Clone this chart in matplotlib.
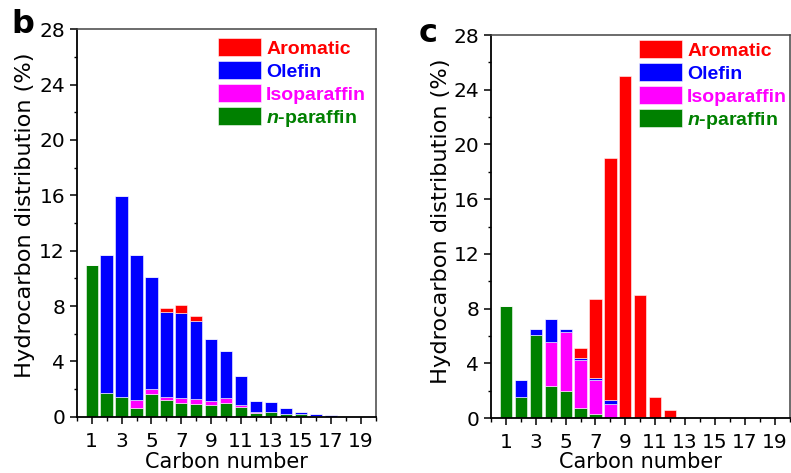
import matplotlib
matplotlib.use("Agg")
import matplotlib.pyplot as plt
from matplotlib.patches import Patch
import numpy as np

plt.rcParams['font.family'] = ['DejaVu Sans']
plt.rcParams['mathtext.fontset'] = 'custom'
plt.rcParams['mathtext.it'] = 'Liberation Sans:italic:bold'
plt.rcParams['mathtext.rm'] = 'Liberation Sans:bold'

carbon = np.arange(1, 20)

# Panel b
b_nparaffin = [11.0, 1.71, 1.42, 0.63, 1.64, 1.20, 0.99, 0.92, 0.82, 0.99, 0.67, 0.24, 0.36, 0.22, 0.17, 0.05, 0.0, 0.0, 0.0]
b_isoparaffin = [0.0, 0.0, 0.0, 0.57, 0.38, 0.25, 0.38, 0.38, 0.31, 0.38, 0.17, 0.12, 0.0, 0.0, 0.0, 0.0, 0.0, 0.0, 0.0]
b_olefin = [0.0, 9.95, 14.53, 10.46, 8.05, 6.14, 6.10, 5.59, 4.46, 3.40, 2.08, 0.77, 0.72, 0.38, 0.19, 0.15, 0.10, 0.0, 0.0]
b_aromatic = [0.0, 0.0, 0.0, 0.0, 0.0, 0.27, 0.63, 0.39, 0.0, 0.0, 0.0, 0.0, 0.0, 0.0, 0.0, 0.0, 0.0, 0.0, 0.0]

# Panel c
c_nparaffin = [8.17, 1.51, 6.05, 2.37, 1.98, 0.76, 0.29, 0.0, 0.0, 0.0, 0.0, 0.0, 0.0, 0.0, 0.0, 0.0, 0.0, 0.0, 0.0]
c_isoparaffin = [0.0, 0.0, 0.0, 3.22, 4.34, 3.51, 2.51, 1.05, 0.0, 0.0, 0.0, 0.0, 0.0, 0.0, 0.0, 0.0, 0.0, 0.0, 0.0]
c_olefin = [0.0, 1.29, 0.46, 1.63, 0.19, 0.12, 0.15, 0.29, 0.0, 0.0, 0.0, 0.0, 0.0, 0.0, 0.0, 0.0, 0.0, 0.0, 0.0]
c_aromatic = [0.0, 0.0, 0.0, 0.0, 0.0, 0.76, 5.76, 17.64, 25.02, 8.98, 1.54, 0.56, 0.0, 0.0, 0.0, 0.0, 0.0, 0.0, 0.0]

series_names = ['Aromatic', 'Olefin', 'Isoparaffin', r'$\it{n}$-paraffin']
colors = ['#ff0000', '#0000ff', '#ff00ff', '#008000']
xticks = [1, 3, 5, 7, 9, 11, 13, 15, 17, 19]
yticks = [0, 4, 8, 12, 16, 20, 24, 28]

W, H = 791, 473
fig = plt.figure(figsize=(W/100, H/100), dpi=100)

# axes boxes in pixels: left, top, right, bottom
box_b = (76.7, 29.3, 375.7, 416.7)
box_c = (491.0, 35.0, 789.5, 418.0)


def make_axes(box):
    l, t, r, b = box
    return fig.add_axes([l/W, 1 - b/H, (r - l)/W, (b - t)/H])


ax_b = make_axes(box_b)
ax_c = make_axes(box_c)


def draw(ax, box, npar, iso, ole, aro, letter, letter_xy, leg_xy, ylab_xy):
    l, t, r, b = box
    npar = np.array(npar); iso = np.array(iso); ole = np.array(ole); aro = np.array(aro)
    kw = dict(width=0.82, edgecolor=(1, 1, 1, 0.55), linewidth=0.7)
    ax.bar(carbon, npar, color=colors[3], **kw)
    ax.bar(carbon, iso, bottom=npar, color=colors[2], **kw)
    ax.bar(carbon, ole, bottom=npar + iso, color=colors[1], **kw)
    ax.bar(carbon, aro, bottom=npar + iso + ole, color=colors[0], **kw)
    ax.set_xlim(0, 20)
    ax.set_ylim(0, 28)
    ax.set_xticks(xticks)
    ax.set_xticks(np.arange(0, 21, 1), minor=True)
    ax.set_yticks(yticks)
    ax.set_yticks(np.arange(0, 29, 2), minor=True)
    ax.tick_params(which='major', direction='out', length=5.2, width=1.1, labelsize=14.5)
    ax.tick_params(axis='x', which='major', pad=5.5)
    ax.tick_params(axis='y', which='major', pad=3.2)
    ax.tick_params(axis='x', which='minor', direction='out', length=3, width=1.0)
    ax.tick_params(axis='y', which='minor', direction='out', length=2, width=1.0)
    for s in ['left', 'bottom']:
        ax.spines[s].set_linewidth(1.3)
        ax.spines[s].set_color('black')
    for s in ['top', 'right']:
        ax.spines[s].set_linewidth(1.1)
        ax.spines[s].set_color('#444444')
    ax.set_xlabel('Carbon number', fontsize=15)
    ax.xaxis.set_label_coords(0.5, (b - 452.0) / (b - t))
    ax.set_ylabel('Hydrocarbon distribution (%)', fontsize=16.2)
    ax.yaxis.set_label_coords((ylab_xy[0] - l) / (r - l), (b - ylab_xy[1]) / (b - t))
    ax.yaxis.label.set_va('center')
    handles = [Patch(facecolor=c, edgecolor=(1, 1, 1, 0.55), linewidth=0.7) for c in colors]
    leg = ax.legend(handles, series_names, loc='upper left',
                    bbox_to_anchor=((leg_xy[0] - l) / (r - l), (b - leg_xy[1]) / (b - t)),
                    frameon=False,
                    prop={'family': 'Liberation Sans', 'weight': 'bold', 'size': 14},
                    handlelength=2.2, handleheight=1.05, handletextpad=0.28,
                    labelspacing=0.17, borderaxespad=0, borderpad=0)
    for tx, c in zip(leg.get_texts(), colors):
        tx.set_color(c)
    fig.text(letter_xy[0] / W, 1 - letter_xy[1] / H, letter, fontsize=23, fontweight='bold',
             ha='left', va='baseline')


draw(ax_b, box_b, b_nparaffin, b_isoparaffin, b_olefin, b_aromatic, 'b', (11, 33), (218, 38), (25, 215))
draw(ax_c, box_c, c_nparaffin, c_isoparaffin, c_olefin, c_aromatic, 'c', (419, 42), (639, 40), (441, 221))

fig.savefig('out.png', dpi=100)
